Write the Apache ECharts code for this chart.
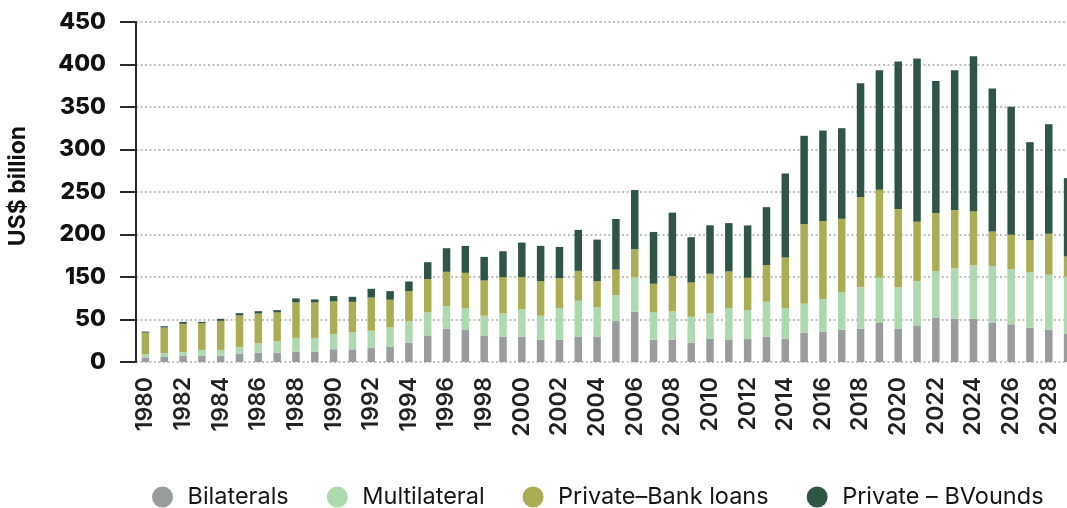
<!DOCTYPE html>
<html>
<head>
<meta charset="utf-8">
<script src="https://cdn.jsdelivr.net/npm/echarts@6/dist/echarts.min.js"></script>
<style>
html,body{margin:0;padding:0;background:#fff;}
#chart{width:1067px;height:508px;}
</style>
</head>
<body>
<div id="chart"></div>
<script>
const years = ['1980','1981','1982','1983','1984','1985','1986','1987','1988','1989',
  '1990','1991','1992','1993','1994','1995','1996','1997','1998','1999',
  '2000','2001','2002','2003','2004','2005','2006','2007','2008','2009',
  '2010','2011','2012','2013','2014','2015','2016','2017','2018','2019',
  '2020','2021','2022','2023','2024','2025','2026','2027','2028','2029'];

// values in the units of the evenly spaced gridlines
const bilaterals = [4.7,5.9,7.5,7.5,7.5,9.8,11,11,12.2,12.2,
  15,14.9,16.4,17.6,22.7,31.3,39.1,37.6,31.3,29.7,
  29.7,26.2,26.2,29.7,29.7,48.1,59.1,26.2,26.2,22.7,
  27.2,25.9,27,29.8,27,34.5,35.7,38,39.2,46.6,
  39.2,43.1,52.1,50.9,50.9,46.6,44.3,40.4,38,32.9];
const multilateral = [4.7,4.7,4.3,6.7,6.7,7.9,11,13.4,16.1,16.1,
  18,20.3,20.4,23.1,25.4,27,26.7,25.8,23.1,27.4,
  32.5,28.2,37.2,42.3,34.9,30.6,40.7,32.1,33.3,30.5,
  30,37.6,34.1,41.1,36.5,34.1,38.4,44.3,48.6,52.5,
  48.6,52.1,54.9,59.6,63.1,66.3,65,65,64.7,67.4];
const bankLoans = [25.2,30,33.1,31.5,34.2,37,35.1,33.9,41.8,41.8,
  38.3,35.6,39.1,32.5,35.3,39.2,40.3,41.5,41.5,42.7,
  37.6,40.7,35.2,35.2,30.5,30.1,32.9,33.7,41.5,40.3,
  46.6,43.1,38,43.1,59.5,93.6,91.7,86.2,106.2,103.5,
  92.1,69.8,68.2,68.2,63.5,40.7,40.4,38,48.2,23.9];
const bonds = [1.2,1.5,2.3,1.5,2.4,2.8,2.7,2.7,4.7,3.5,
  6.3,5.9,10.2,10.2,11.3,19.9,27.8,31.7,27.8,30.5,
  40.7,41.5,36.8,48.2,48.9,59.5,69.6,61,74.7,53.3,
  57,56.8,61.6,68.2,98.8,103.9,106.5,106.6,134,140.7,
  173.5,192,155.5,164.6,182.2,168.1,150.5,115.2,128.9,92.1];

const yTickLabels = ['0','50','150','200','250','300','350','400','450'];
const seriesNames = ['Bilaterals','Multilateral','Private\u2013Bank loans','Private \u2013 BVounds'];
const colors = ['#999c9d','#add9ae','#abad54','#2f5644'];

const chart = echarts.init(document.getElementById('chart'), null, {renderer:'canvas'});
const FONT = 'Inter, "Noto Sans", sans-serif';
const dataSets = [bilaterals, multilateral, bankLoans, bonds];

chart.setOption({
  animation:false,
  backgroundColor:'#ffffff',
  textStyle:{fontFamily:FONT},
  grid:{left:136,right:-10,top:22,bottom:146,containLabel:false,outerBoundsMode:'none'},
  legend:{
    left:147, top:480,
    itemWidth:40, itemHeight:21, itemGap:38,
    icon:'circle',
    textStyle:{fontFamily:FONT,fontSize:23.5,color:'#151515'},
    data:seriesNames
  },
  xAxis:{
    type:'category',
    data:years,
    axisLine:{show:false},
    axisTick:{show:false},
    axisLabel:{interval:1,rotate:90,margin:15,fontFamily:FONT,fontSize:23,fontWeight:600,color:'#222'}
  },
  yAxis:{
    type:'value',
    min:0,max:400,interval:50,
    name:'US$ billion',
    nameLocation:'middle',
    nameGap:106,
    nameRotate:90,
    nameTextStyle:{fontFamily:FONT,fontSize:23,fontWeight:700,color:'#111',padding:[0,0,0,12]},
    axisLine:{show:true,lineStyle:{color:'#2a2a2a',width:2}},
    axisTick:{show:true,length:16,lineStyle:{color:'#2a2a2a',width:2}},
    axisLabel:{margin:30,fontFamily:FONT,fontSize:23,fontWeight:800,color:'#111',
      formatter:function(v){return yTickLabels[Math.round(v/50)];}},
    splitLine:{show:true,lineStyle:{color:'#aaaaaa',width:1.5,type:[2,2.5]}}
  },
  series:dataSets.map(function(d,i){
    return {
      name:seriesNames[i],
      type:'bar',
      stack:'total',
      barWidth:7.5,
      itemStyle:{color:colors[i]},
      data:d
    };
  })
});
</script>
</body>
</html>
